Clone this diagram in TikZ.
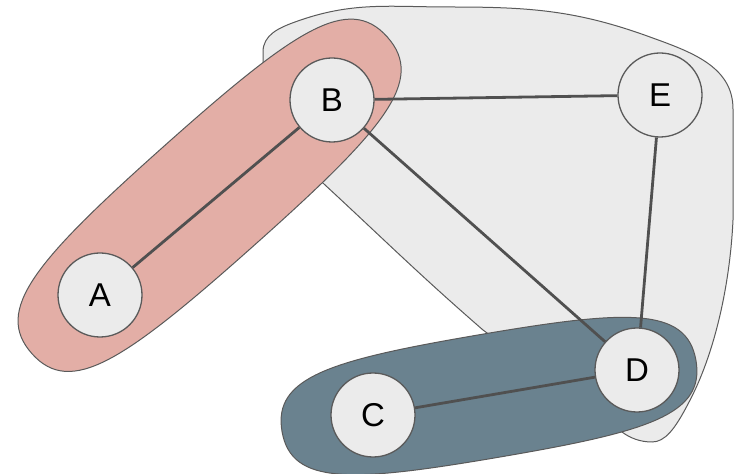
\documentclass[tikz,border=0pt]{standalone}
\usepackage{fontspec}
\setmainfont{Liberation Sans}
\usepackage{xcolor}

\definecolor{nodegray}{HTML}{EBEBEB}
\definecolor{blobgray}{HTML}{EBEBEB}
\definecolor{rimgray}{HTML}{5A5A5A}
\definecolor{edgegray}{HTML}{505050}
\definecolor{abred}{HTML}{E3AEA6}
\definecolor{cdblue}{HTML}{6A828F}

\begin{document}
\begin{tikzpicture}[x=1pt, y=1pt, thick,
    vertex/.style={circle, draw=rimgray, fill=nodegray, line width=1.3pt, minimum size=84pt, inner sep=0pt, font=\fontsize{33}{40}\selectfont},
    group/.style={draw=rimgray, line width=1pt},
    link/.style={draw=edgegray, line width=2.8pt},
]
                    \useasboundingbox (0,0) rectangle (734,474);

                    % clusters
                    \path[group, fill=blobgray] (263,399) -- (263,422) to[out=90,in=200] (295,452)
                        to[out=20,in=180] (450,467) to[out=0,in=160] (650,437)
                        to[out=-20,in=90] (733,365) -- (733,254)
                        .. controls (730,190) and (715,120) .. (688,70)
                        .. controls (675,45) and (665,32) .. (652,32)
                        .. controls (640,32) and (630,36) .. (622,42)
                        -- (483,144) to[out=139,in=-43] (338,277) to[out=137,in=-90] (263,399) -- cycle;
                    \begin{scope}[shift={(209.6,278.7)}, rotate=41.7]
                        \path[group, fill=abred] (-238,0) .. controls (-238,58) and (-175,67) .. (0,67)
                            .. controls (175,67) and (238,58) .. (238,0)
                            .. controls (238,-58) and (175,-67) .. (0,-67)
                            .. controls (-175,-67) and (-238,-58) .. (-238,0) -- cycle;
                    \end{scope}
                    \begin{scope}[shift={(489,78)}, rotate=9.7]
                        \path[group, fill=cdblue] (-210,0) .. controls (-210,55) and (-150,62) .. (0,62)
                            .. controls (150,62) and (210,55) .. (210,0)
                            .. controls (210,-55) and (150,-62) .. (0,-62)
                            .. controls (-150,-62) and (-210,-55) .. (-210,0) -- cycle;
                    \end{scope}

                    % vertices
                    \node [vertex](A) at (100,179) {A};
                    \node [vertex](B) [node distance=232pt, right of = A, yshift = 195pt]{B};
                    \node [vertex](E) [node distance=328pt, right of = B, yshift = 5pt]{E};
                    \node [vertex](D) [node distance=275pt, below of = E, xshift = -23pt]{D};
                    \node [vertex](C) [node distance=264pt, left of = D, yshift = -45pt]{C};

                    \path[link]
                        (A) edge (B)
                        (B) edge (E)
                        (B) edge (D)
                        (E) edge (D)
                        (C) edge (D)
                    ;

                \end{tikzpicture}
\end{document}
